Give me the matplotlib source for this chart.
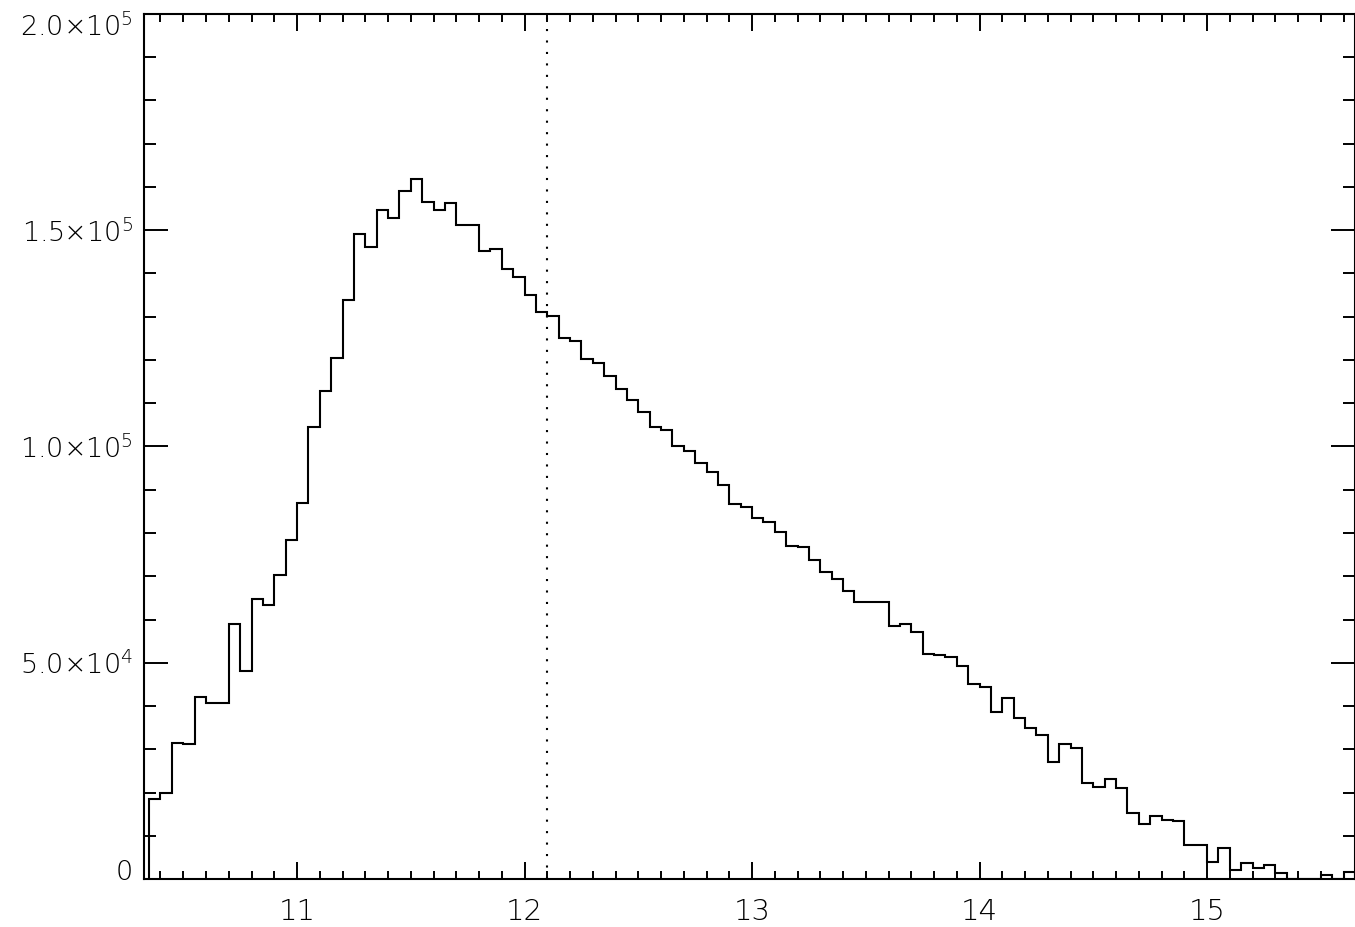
import numpy as np
import matplotlib
matplotlib.use("Agg")
import matplotlib.pyplot as plt
from matplotlib.transforms import ScaledTranslation
from matplotlib.ticker import MultipleLocator, FixedLocator
from matplotlib import font_manager

# ---- data ----
bin_start = 10.35
bin_width = 0.05
counts_k = [
    18.4, 19.9, 31.4, 31.3, 42.1, 40.7, 40.6, 58.9, 48.2, 64.7, 63.4, 70.4, 78.4,
    86.9, 104.5, 112.8, 120.5, 133.8, 149.2, 146.2, 154.6, 152.9, 159.0,
    161.9, 156.5, 154.6, 156.2, 151.3, 151.3, 145.1, 145.7, 141.1, 139.3,
    135.0, 131.2, 130.2, 125.2, 124.4, 120.2, 119.3, 116.3, 113.3, 110.8,
    107.9, 104.5, 103.7, 100.0, 98.9, 96.1, 94.2, 91.0, 86.7, 85.9,
    83.5, 82.6, 80.3, 77.0, 76.8, 73.7, 71.0, 69.4, 66.7, 64.0,
    64.0, 64.1, 58.6, 58.9, 57.0, 52.0, 51.9, 51.4, 49.2, 45.2,
    44.3, 38.5, 41.9, 37.2, 34.8, 33.3, 27.1, 31.2, 30.4, 22.2,
    21.3, 23.1, 21.1, 15.2, 12.8, 14.6, 13.6, 13.4, 7.9, 7.9,
    4.0, 7.2, 2.1, 3.6, 2.6, 3.3, 1.3, 0.0, 0.0, 0.0, 0.9, 0.0, 1.7,
]
marker_x = 12.1
x_ticks = [11, 12, 13, 14, 15]
x_tick_labels = ["11", "12", "13", "14", "15"]
y_ticks = [0, 5.0e4, 1.0e5, 1.5e5, 2.0e5]
y_tick_labels = ["0",
                 r"$\mathregular{5.0×10^{4}}$",
                 r"$\mathregular{1.0×10^{5}}$",
                 r"$\mathregular{1.5×10^{5}}$",
                 r"$\mathregular{2.0×10^{5}}$"]

counts = np.array(counts_k) * 1000.0
edges = bin_start + bin_width * np.arange(len(counts) + 1)

# pick a thin font if available
font_weight = 'normal'
try:
    p = font_manager.findfont(font_manager.FontProperties(family='DejaVu Sans', weight=200),
                              fallback_to_default=False)
    if 'Light' in p:
        font_weight = 200
except Exception:
    pass

plt.rcParams['font.family'] = ['DejaVu Sans']
plt.rcParams['mathtext.fontset'] = 'dejavusans'

fig = plt.figure(figsize=(13.55, 9.27), dpi=100)
ax = fig.add_axes([144 / 1355, (927 - 879) / 927, (1355 - 144) / 1355, (879 - 14) / 927])

ax.stairs(counts, edges, baseline=0, color='black', linewidth=1.5)
ax.plot([marker_x, marker_x], [0, 2.0e5], color='black', linewidth=1.5,
        linestyle=(0, (1, 4.5)))

ax.set_xlim(10.3275, 15.65)
ax.set_ylim(0, 2.0e5)

ax.xaxis.set_major_locator(FixedLocator(x_ticks))
ax.set_xticklabels(x_tick_labels, fontweight=font_weight)
ax.xaxis.set_minor_locator(MultipleLocator(0.1))
ax.yaxis.set_major_locator(FixedLocator(y_ticks))
ax.set_yticklabels(y_tick_labels, fontweight=font_weight)
ax.yaxis.set_minor_locator(MultipleLocator(1.0e4))

for s in ax.spines.values():
    s.set_linewidth(1.5)

ax.tick_params(axis='x', which='major', direction='in', length=12.2, width=1.4,
               top=True, bottom=True, labelsize=21, pad=14)
ax.tick_params(axis='x', which='minor', direction='in', length=5.8, width=1.4,
               top=True, bottom=True)
ax.tick_params(axis='y', which='major', direction='in', length=17.3, width=1.4,
               left=True, right=True, labelsize=19.5, pad=8)
ax.tick_params(axis='y', which='minor', direction='in', length=8.6, width=1.4,
               left=True, right=True)

for lab in ax.get_xticklabels() + ax.get_yticklabels():
    lab.set_color('black')

ylabs = ax.get_yticklabels()
ylabs[0].set_transform(ylabs[0].get_transform() + ScaledTranslation(0, 9 / 100, fig.dpi_scale_trans))
ylabs[-1].set_transform(ylabs[-1].get_transform() + ScaledTranslation(0, -10 / 100, fig.dpi_scale_trans))

fig.savefig("out.png", dpi=100)
